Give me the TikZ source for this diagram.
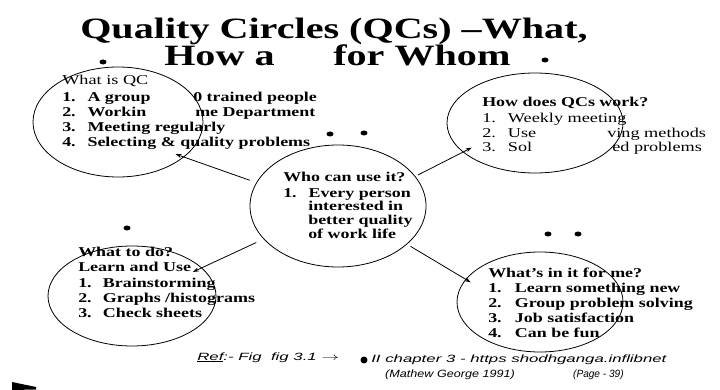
\documentclass[tikz,border=0pt]{standalone}
\usepackage{fontspec}
\setmainfont{Liberation Serif}
\setsansfont{Liberation Sans}
\usetikzlibrary{arrows.meta}
\usetikzlibrary{shapes.geometric}

\tikzset{
  bubble/.style={draw, ellipse, line width=0.8pt, inner sep=0pt},
  link/.style={line width=0.8pt, -{Stealth[length=6pt, width=4pt]}},
  headline/.style={font=\bfseries\fontsize{29.5}{32}\selectfont, anchor=base west, inner sep=0pt, xscale=1.36},
  qitem/.style={font=\bfseries\fontsize{13.5}{15}\selectfont, anchor=base west, inner sep=0pt, xscale=1.33},
  qplain/.style={font=\fontsize{13.5}{15}\selectfont, anchor=base west, inner sep=0pt, xscale=1.35},
  hand/.style={font=\sffamily\itshape\fontsize{10.5}{12}\selectfont, anchor=base west, inner sep=0pt, xscale=1.6},
  blot/.style={fill=black},
}

\begin{document}
\begin{tikzpicture}[x=1pt, y=-1pt]
\useasboundingbox (0,0) rectangle (720,390);
% title
\node[headline] (title1) at (80,39) {Quality Circles (QCs) --What,};
\node[headline] (title2a) at (164,66) {How a};
\node[headline] (title2b) at (333,66) {for Whom};

% bubbles
\node[bubble, minimum width=170pt, minimum height=110pt] (whatqc) at (118,122) {};
\node[bubble, minimum width=176pt, minimum height=100pt] (howwork) at (535,123) {};
\node[bubble, minimum width=176pt, minimum height=122pt] (whocan) at (338,206) {};
\node[bubble, minimum width=168pt, minimum height=100pt] (whattodo) at (132,296) {};
\node[bubble, minimum width=166pt, minimum height=100pt] (whatsin) at (540,302) {};

% what is QC
\node[qplain] (whatqc-head) at (62,85) {What is QC};
\foreach \n/\y/\t in {1/102/A group, 2/117/Workin, 3/132/Meeting regularly, 4/147/Selecting \& quality problems}
  \node[qitem] (whatqc-\n) at (62,\y) {\makebox[19pt][l]{\n.}\t};
\node[qitem] (whatqc-1b) at (193,102) {0 trained people};
\node[qitem] (whatqc-2b) at (195,117) {me Department};

% how does it work
\node[qitem] (howwork-head) at (482,107) {How does QCs work?};
\foreach \n/\y/\t in {1/123/Weekly meeting, 2/138/Use, 3/152/Sol}
  \node[qplain] (howwork-\n) at (482,\y) {\makebox[19pt][l]{\n.}\t};
\node[qplain] (howwork-2b) at (607,138) {ving methods};
\node[qplain] (howwork-3b) at (612,152) {ed problems};

% who can use it
\node[qitem] (whocan-head) at (283,182) {Who can use it?};
\node[qitem] (whocan-1) at (283,197) {\makebox[19pt][l]{1.}Every person};
\foreach \n/\y/\t in {2/211/interested in, 3/225/better quality, 4/239/of work life}
  \node[qitem] (whocan-\n) at (308,\y) {\t};

% what to do
\node[qitem] (whattodo-head) at (78,256) {What to do?};
\node[qitem] (whattodo-sub) at (78,271) {Learn and Use};
\foreach \n/\y/\t in {1/287/Brainstorming, 2/302/{Graphs /histograms}, 3/317/Check sheets}
  \node[qitem] (whattodo-\n) at (78,\y) {\makebox[18.5pt][l]{\n.}\t};

% what's in it for me
\node[qitem] (whatsin-head) at (488,277) {What's in it for me?};
\foreach \n/\y/\t in {1/292/Learn something new, 2/307/Group problem solving, 3/322/Job satisfaction, 4/337/Can be fun}
  \node[qitem] (whatsin-\n) at (488,\y) {\makebox[20pt][l]{\n.}\t};

% arrows out of the centre
\draw[link, shorten <=7pt, shorten >=-9pt] (whocan.164) -- (whatqc.-28);
\draw[link, shorten <=3pt, shorten >=-10pt] (whocan.21) -- (howwork.202);
\draw[link, shorten <=8pt, shorten >=-10pt] (whocan.204) -- (whattodo.22);
\draw[link, shorten <=4pt, shorten >=-6pt] (whocan.-29) -- (whatsin.163);

% scribbles
\foreach \x/\y in {103/62, 545/60, 330/134, 364/133, 127/228, 548/234, 578/234}
  \fill[blot] (\x,\y) ellipse (3.5pt and 2.5pt);

% handwritten reference
\node[hand] (ref) at (197,360) {\underline{Ref}:- Fig \ fig 3.1 $\rightarrow$};
\fill[blot] (364,360) circle (3.5pt);
\node[hand] (src1) at (371,362) {II chapter 3 - https shodhganga.inflibnet};
\node[hand, xscale=0.75] (src2) at (385,377) {(Mathew George 1991)};
\node[hand, xscale=0.6] (src3) at (573,377) {(Page - 39)};
\fill[blot] (12,382) -- (36,387) -- (36,389.5) -- (12,390) -- cycle;
\end{tikzpicture}
\end{document}
